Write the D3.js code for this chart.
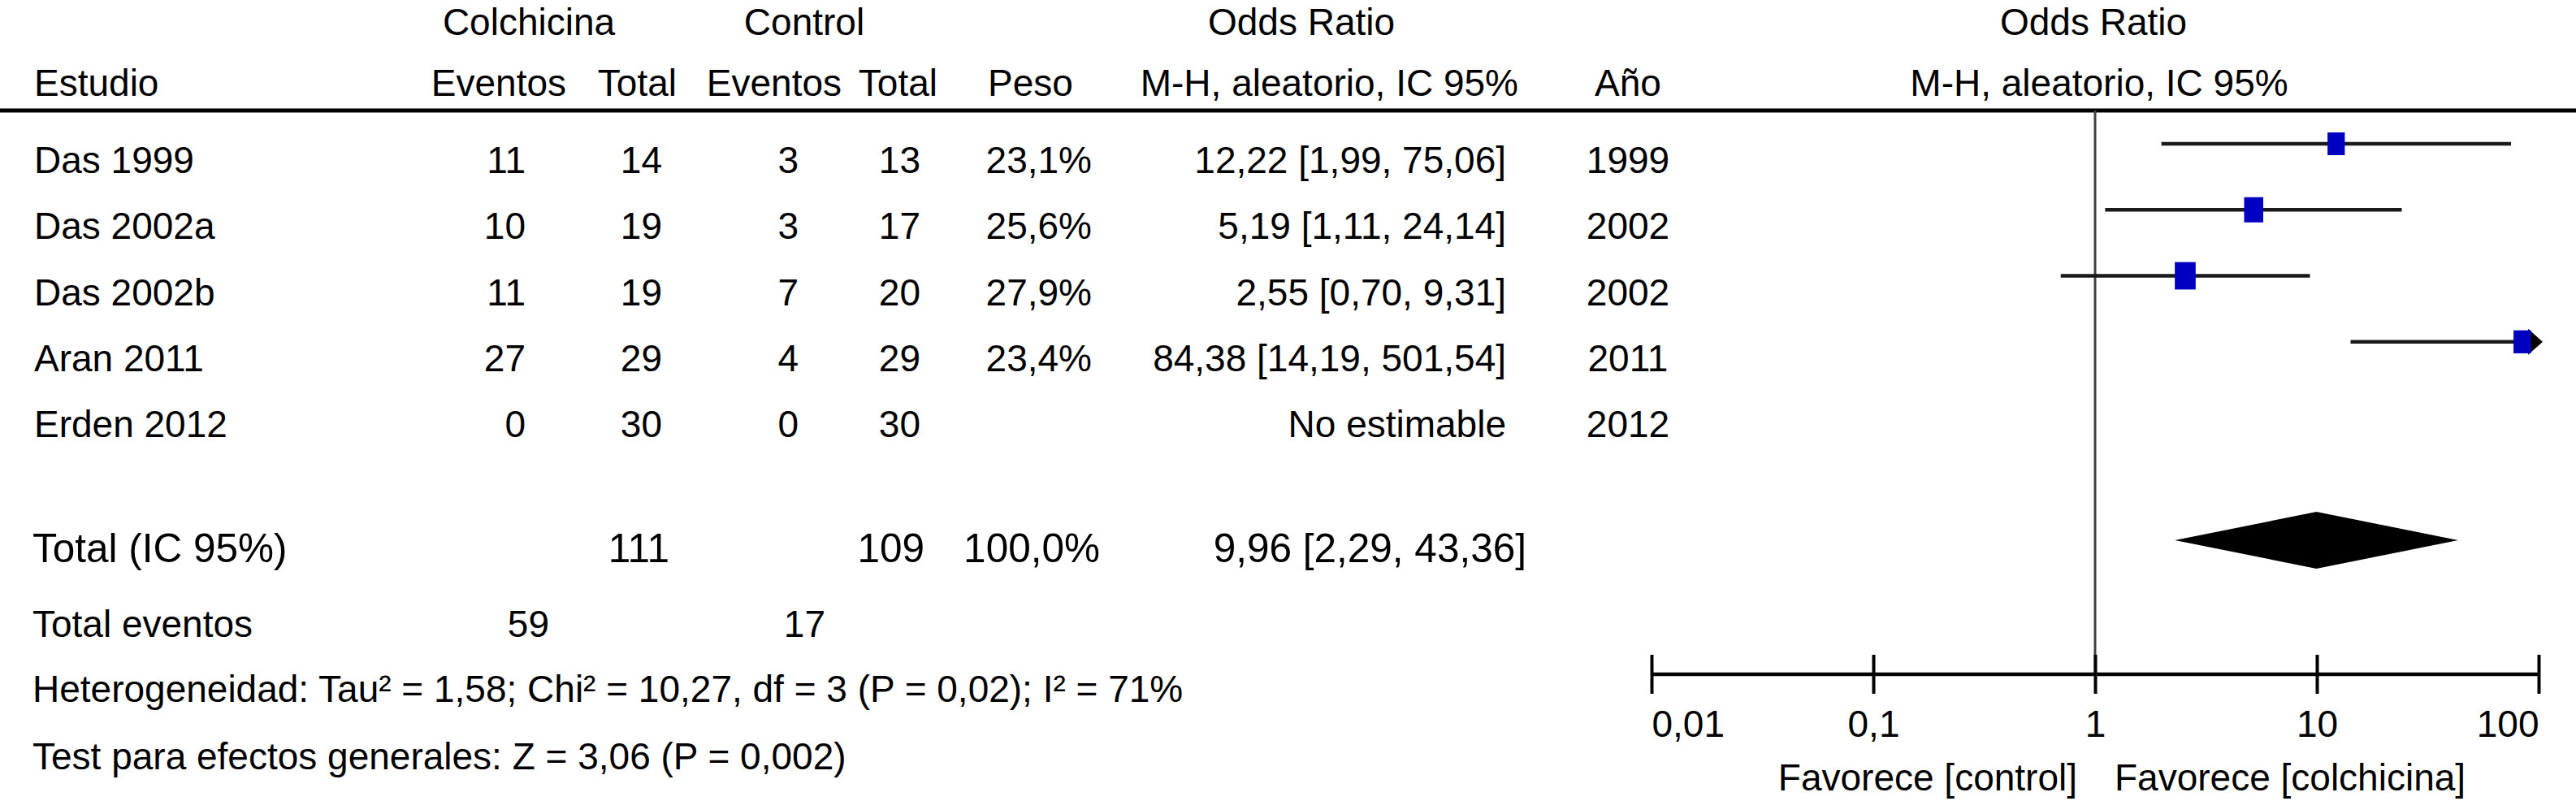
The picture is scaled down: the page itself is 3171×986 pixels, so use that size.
<!DOCTYPE html>
<html><head><meta charset="utf-8">
<script src="https://cdn.jsdelivr.net/npm/d3@7"></script>
<style>
body{margin:0;background:#fff}
text{font-family:"Liberation Sans",Arial,Helvetica,sans-serif;fill:#000}
</style>
</head><body>
<svg id="c" width="3171" height="986"></svg>
<script>
// ---- data ----
const studies  = ["Das 1999","Das 2002a","Das 2002b","Aran 2011","Erden 2012"];
const evColch  = [11,10,11,27,0];
const totColch = [14,19,19,29,30];
const evCtrl   = [3,3,7,4,0];
const totCtrl  = [13,17,20,29,30];
const weights  = [23.1,25.6,27.9,23.4,null];
const orVal    = [12.22,5.19,2.55,84.38,null];
const ciLow    = [1.99,1.11,0.70,14.19,null];
const ciHigh   = [75.06,24.14,9.31,501.54,null];
const years    = [1999,2002,2002,2011,2012];
const totalN   = [111,109];
const totalEvents = [59,17];
const pooled   = {or:9.96, lo:2.29, hi:43.36, weight:100.0};
const tickValues = [0.01,0.1,1,10,100];
const tickLabels = ["0,01","0,1","1","10","100"];
const heterogeneity = "Heterogeneidad: Tau\u00b2 = 1,58; Chi\u00b2 = 10,27, df = 3 (P = 0,02); I\u00b2 = 71%";
const overallTest = "Test para efectos generales: Z = 3,06 (P = 0,002)";

// ---- helpers ----
const fmt2 = v => d3.format(".2f")(v).replace(".", ",");
const fmt1 = v => d3.format(".1f")(v).replace(".", ",");

const svg = d3.select("#c");
const FS = 46, FS_T = 49.5;

// layout
const W = 3171;
const yRow = d3.scaleLinear().domain([0, studies.length - 1]).range([213, 538]);
const x = d3.scaleLog().domain([0.01, 100]).range([2033, 3125]);
const axisY = 830, headerLineY = 136;
const col = {name:42, evC:647, totC:815, evK:983, totK:1133, peso:1344, or:1854, year:2004};

function txt(g, xx, yy, s, anchor, size) {
  return g.append("text").attr("x", xx).attr("y", yy)
    .attr("text-anchor", anchor || "start")
    .style("font-size", (size || FS) + "px").text(s);
}

// ---- headers ----
const h = svg.append("g");
const h1 = 43, h2 = 118;
txt(h, 651, h1, "Colchicina", "middle");
txt(h, 990, h1, "Control", "middle");
txt(h, 1602, h1, "Odds Ratio", "middle");
txt(h, 2577, h1, "Odds Ratio", "middle");
txt(h, 42, h2, "Estudio");
txt(h, 697, h2, "Eventos", "end");
txt(h, 833, h2, "Total", "end");
txt(h, 1036, h2, "Eventos", "end");
txt(h, 1154, h2, "Total", "end");
txt(h, 1216, h2, "Peso");
txt(h, 1869, h2, "M-H, aleatorio, IC 95%", "end");
txt(h, 2004, h2, "A\u00f1o", "middle");
txt(h, 2584, h2, "M-H, aleatorio, IC 95%", "middle");

svg.append("line").attr("x1", 0).attr("x2", W)
  .attr("y1", headerLineY).attr("y2", headerLineY)
  .attr("stroke", "#000").attr("stroke-width", 5);

// ---- study rows ----
const rows = svg.append("g");
studies.forEach((s, i) => {
  const y = yRow(i);
  txt(rows, col.name, y, s);
  txt(rows, col.evC, y, evColch[i], "end");
  txt(rows, col.totC, y, totColch[i], "end");
  txt(rows, col.evK, y, evCtrl[i], "end");
  txt(rows, col.totK, y, totCtrl[i], "end");
  if (weights[i] != null) txt(rows, col.peso, y, fmt1(weights[i]) + "%", "end");
  const orText = orVal[i] == null ? "No estimable"
    : `${fmt2(orVal[i])} [${fmt2(ciLow[i])}, ${fmt2(ciHigh[i])}]`;
  txt(rows, col.or, y, orText, "end");
  txt(rows, col.year, y, years[i], "middle");
});

// ---- summary rows ----
const tY = 692;
txt(svg, 40, tY, "Total (IC 95%)", "start", FS_T);
txt(svg, 824, tY, totalN[0], "end", FS_T);
txt(svg, 1138, tY, totalN[1], "end", FS_T);
txt(svg, 1354, tY, fmt1(pooled.weight) + "%", "end", FS_T);
txt(svg, 1879, tY, `${fmt2(pooled.or)} [${fmt2(pooled.lo)}, ${fmt2(pooled.hi)}]`, "end", FS_T);

txt(svg, 40, 784, "Total eventos");
txt(svg, 676, 784, totalEvents[0], "end");
txt(svg, 1016, 784, totalEvents[1], "end");
txt(svg, 40, 864, heterogeneity);
txt(svg, 40, 947, overallTest);

// ---- forest plot ----
const plot = svg.append("g");
// line of no effect
plot.append("line").attr("x1", x(1)).attr("x2", x(1))
  .attr("y1", headerLineY).attr("y2", axisY)
  .attr("stroke", "#404040").attr("stroke-width", 3);

const [xmin, xmax] = x.domain();
studies.forEach((s, i) => {
  if (orVal[i] == null) return;
  const cy = yRow(i) - 36;
  const lo = Math.max(ciLow[i], xmin), hi = Math.min(ciHigh[i], xmax);
  plot.append("line").attr("x1", x(lo)).attr("x2", x(hi))
    .attr("y1", cy).attr("y2", cy)
    .attr("stroke", "#1a1a1a").attr("stroke-width", 4.5);
  if (ciHigh[i] > xmax) {
    const xe = x(xmax);
    plot.append("path")
      .attr("d", `M${xe - 13},${cy - 16} L${xe + 5},${cy} L${xe - 13},${cy + 16} Z`)
      .attr("fill", "#000");
  }
  const hgt = weights[i] * 1.21, wid = hgt * 0.76;
  plot.append("rect")
    .attr("x", x(orVal[i]) - wid / 2).attr("y", cy - hgt / 2)
    .attr("width", wid).attr("height", hgt)
    .attr("fill", "#0000c0");
});

// pooled diamond
const dc = 665, dh = 35;
plot.append("path")
  .attr("d", `M${x(pooled.lo)},${dc} L${x(pooled.or)},${dc - dh} L${x(pooled.hi)},${dc} L${x(pooled.or)},${dc + dh} Z`)
  .attr("fill", "#000");

// axis
const axis = d3.axisBottom(x).tickValues(tickValues).tickSize(22).tickSizeOuter(0)
  .tickFormat((d, i) => tickLabels[i]);
const ag = plot.append("g").attr("transform", `translate(0,${axisY})`).call(axis);
ag.select(".domain").attr("stroke", "#000").attr("stroke-width", 4.5)
  .attr("d", `M${x(xmin)},0H${x(xmax)}`);
ag.selectAll(".tick line").attr("y1", -24).attr("y2", 24)
  .attr("stroke", "#000").attr("stroke-width", 4);
ag.selectAll(".tick text")
  .attr("y", 77).attr("dy", null)
  .style("font-size", FS + "px")
  .style("font-family", '"Liberation Sans",Arial,Helvetica,sans-serif')
  .attr("fill", "#000")
  .attr("text-anchor", (d, i) => i === 0 ? "start" : (i === tickValues.length - 1 ? "end" : "middle"));

txt(plot, x(1) - 22, 973, "Favorece [control]", "end");
txt(plot, x(1) + 24, 973, "Favorece [colchicina]", "start");
</script>
</body></html>
